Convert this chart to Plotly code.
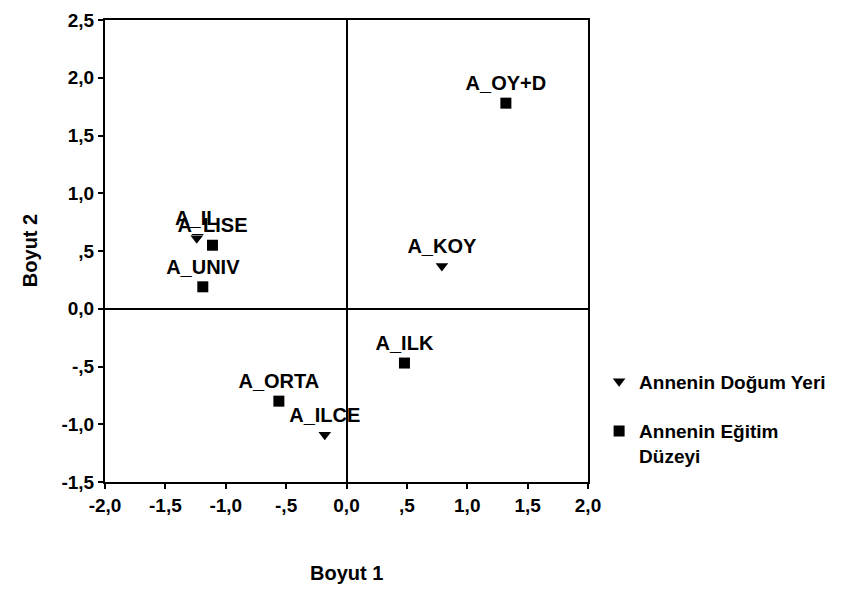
import plotly.graph_objects as go

# Data
birth_labels = ["A_IL", "A_KOY", "A_ILCE"]
birth_x = [-1.24, 0.79, -0.18]
birth_y = [0.61, 0.37, -1.09]

edu_labels = ["A_OY+D", "A_LISE", "A_UNIV", "A_ILK", "A_ORTA"]
edu_x = [1.32, -1.11, -1.19, 0.48, -0.56]
edu_y = [1.78, 0.55, 0.19, -0.47, -0.80]

series_names = ["Annenin Doğum Yeri", "Annenin Eğitim<br>Düzeyi"]

x_ticks = [-2.0, -1.5, -1.0, -0.5, 0.0, 0.5, 1.0, 1.5, 2.0]
x_ticktext = ["-2,0", "-1,5", "-1,0", "-,5", "0,0", ",5", "1,0", "1,5", "2,0"]
y_ticks = [-1.5, -1.0, -0.5, 0.0, 0.5, 1.0, 1.5, 2.0, 2.5]
y_ticktext = ["-1,5", "-1,0", "-,5", "0,0", ",5", "1,0", "1,5", "2,0", "2,5"]

FONT = "Liberation Sans"
fnt = dict(family=FONT, size=20, color="black", weight="bold")

fig = go.Figure()
fig.add_trace(go.Scatter(
    x=birth_x, y=birth_y, mode="markers+text", text=birth_labels,
    textposition="top center", textfont=fnt,
    marker=dict(symbol="triangle-down", size=11, color="black"),
    name=series_names[0], legendgroup="a"))
fig.add_trace(go.Scatter(
    x=edu_x, y=edu_y, mode="markers+text", text=edu_labels,
    textposition="top center", textfont=fnt,
    marker=dict(symbol="square", size=11, color="black"),
    name=series_names[1], legendgroup="b"))

axis_common = dict(
    showgrid=False, zeroline=True, zerolinecolor="black", zerolinewidth=2,
    showline=True, linecolor="black", linewidth=2, mirror=True,
    ticks="outside", ticklen=5, tickwidth=2, tickcolor="black",
    tickfont=dict(family=FONT, size=19, color="black", weight="bold"),
    automargin=False, ticklabeloverflow="allow",
)
fig.update_xaxes(range=[-2, 2], tickvals=x_ticks, ticktext=x_ticktext, **axis_common)
fig.update_yaxes(range=[-1.5, 2.5], tickvals=y_ticks, ticktext=y_ticktext, **axis_common)

fig.add_annotation(text="Boyut 1", xref="paper", yref="paper", x=0.5, y=-0.196,
                   showarrow=False, font=fnt, xanchor="center", yanchor="middle")
fig.add_annotation(text="Boyut 2", xref="paper", yref="paper", x=-0.155, y=0.5,
                   showarrow=False, font=fnt, textangle=-90, xanchor="center", yanchor="middle")

fig.update_layout(
    width=844, height=594,
    margin=dict(l=97, r=264, t=12, b=120),
    plot_bgcolor="white", paper_bgcolor="white",
    showlegend=True,
    legend=dict(x=1.023, y=0.259, xanchor="left", yanchor="top",
                font=dict(family=FONT, size=19, color="black", weight="bold"),
                valign="top", tracegroupgap=22,
                bgcolor="rgba(0,0,0,0)"),
)

fig.write_html("out.html")
